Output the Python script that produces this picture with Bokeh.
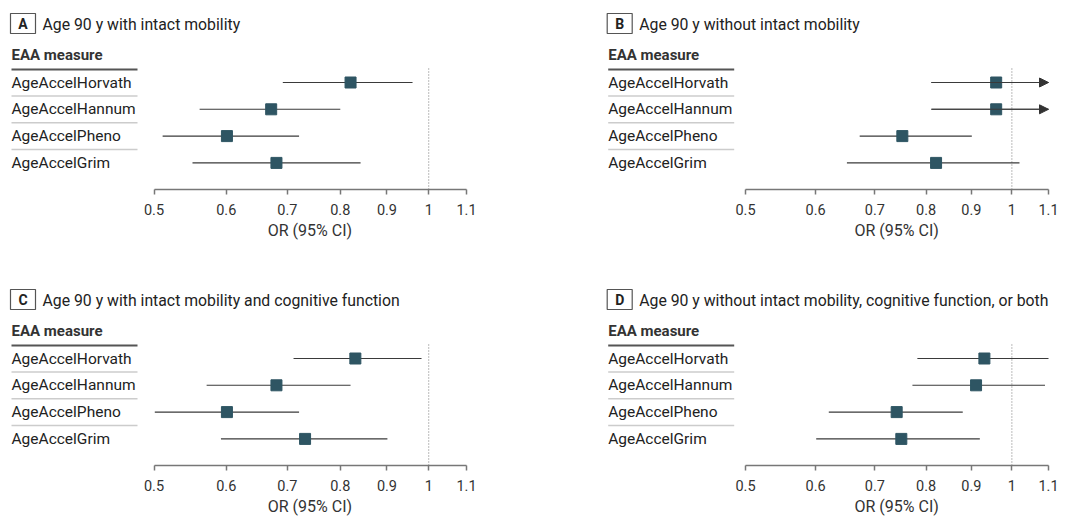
import math
from bokeh.plotting import figure
from bokeh.layouts import gridplot
from bokeh.models import (Range1d, LinearScale, FixedTicker, NumeralTickFormatter,
                          LogAxis, Arrow, NormalHead, ColumnDataSource, Title)
from bokeh.core.properties import value
from bokeh.embed import file_html
from bokeh.resources import INLINE

# ---------------- data ----------------
measures = ["AgeAccelHorvath", "AgeAccelHannum", "AgeAccelPheno", "AgeAccelGrim"]
ticks = [0.5, 0.6, 0.7, 0.8, 0.9, 1.0, 1.1]
axis_min, axis_max = 0.5, 1.1
x_label = "OR (95% CI)"
header = "EAA measure"

letters = ["A", "B", "C", "D"]
titles = ["Age 90 y with intact mobility",
          "Age 90 y without intact mobility",
          "Age 90 y with intact mobility and cognitive function",
          "Age 90 y without intact mobility, cognitive function, or both"]

or_A = [0.821, 0.672, 0.601, 0.681]
lo_A = [0.692, 0.561, 0.511, 0.551]
hi_A = [0.960, 0.800, 0.721, 0.842]

or_B = [0.960, 0.960, 0.752, 0.821]
lo_B = [0.811, 0.811, 0.673, 0.651]
hi_B = [1.150, 1.150, 0.901, 1.020]

or_C = [0.831, 0.681, 0.601, 0.732]
lo_C = [0.711, 0.571, 0.501, 0.592]
hi_C = [0.982, 0.821, 0.721, 0.901]

or_D = [0.931, 0.911, 0.741, 0.750]
lo_D = [0.782, 0.772, 0.621, 0.601]
hi_D = [1.100, 1.090, 0.880, 0.920]

FONT = value("Roboto")
W = 540
FRAME_H = 189
ROW0, DY = 82, 26.8


def panel(letter, title, est, lo, hi, height, left, ax0, ax1):
    k = (ax1 - ax0) / math.log(axis_max / axis_min)
    xs = axis_min * math.exp(-ax0 / k)
    xe = axis_min * math.exp((W - ax0) / k)
    y_top = -ROW0 / DY
    y_bot = (FRAME_H - ROW0) / DY
    p = figure(width=W, height=height, x_axis_type="log",
               x_range=Range1d(xs, xe), y_range=Range1d(y_bot, y_top),
               x_axis_location=None, y_axis_location=None,
               toolbar_location=None, output_backend="svg",
               min_border_left=0, min_border_right=0, min_border_top=0,
               min_border_bottom=height - FRAME_H, outline_line_color=None,
               background_fill_color="white", border_fill_color="white")
    p.xgrid.visible = False
    p.ygrid.visible = False
    p.extra_x_ranges = {"px": Range1d(0, W)}
    p.extra_x_scales = {"px": LinearScale()}
    p.extra_y_ranges = {"px": Range1d(FRAME_H, 0)}
    p.extra_y_scales = {"px": LinearScale()}

    idx = list(range(len(measures)))
    hi_draw = [min(h, axis_max) for h in hi]
    src = ColumnDataSource(dict(y=idx, est=est, lo=lo, hi=hi_draw, name=measures))

    # panel letter box and title
    p.quad(left=[left - 1], right=[left + 24], top=[13], bottom=[33],
           x_range_name="px", y_range_name="px",
           fill_color="white", line_color="#555555", line_width=1.2)
    p.text(x=[left + 11.5], y=[23.5], text=[letter], x_range_name="px", y_range_name="px",
           text_font=FONT, text_font_style="bold", text_font_size="14px",
           text_align="center", text_baseline="middle", text_color="#222222")
    p.text(x=[left + 31], y=[23.5], text=[title], x_range_name="px", y_range_name="px",
           text_font=FONT, text_font_size="15.8px",
           text_baseline="middle", text_color="#222222")

    # header
    p.text(x=[left], y=[54], text=[header], x_range_name="px", y_range_name="px",
           text_font=FONT, text_font_style="bold", text_font_size="15px",
           text_baseline="middle", text_color="#333333")
    p.segment(x0=[left], x1=[left + 126], y0=[69], y1=[69],
              x_range_name="px", y_range_name="px",
              line_color="#555555", line_width=2)
    # separators between rows
    seps = [i + 0.5 for i in idx[:-1]]
    p.segment(x0=[left] * len(seps), x1=[left + 126] * len(seps), y0=seps, y1=seps,
              x_range_name="px", line_color="#cccccc", line_width=1.5)
    # row labels
    p.text(x=[left] * len(idx), y=idx, text=measures, x_range_name="px",
           text_font=FONT, text_font_size="15.5px",
           text_baseline="middle", text_color="#222222")

    # reference line at OR = 1
    p.segment(x0=[1.0], x1=[1.0], y0=[68], y1=[FRAME_H], y_range_name="px",
              line_color="#777777", line_width=1, line_dash="1 2")

    # CIs and estimates
    p.segment(x0="lo", x1="hi", y0="y", y1="y", source=src,
              line_color="#3a3a3a", line_width=1.1)
    for i, h in enumerate(hi):
        if h > axis_max:
            p.add_layout(Arrow(end=NormalHead(size=9, fill_color="#333333",
                                              line_color="#333333"),
                               x_start=lo[i], y_start=i, x_end=axis_max, y_end=i,
                               line_color="#3a3a3a", line_width=1.1))
    p.scatter(x="est", y="y", source=src, marker="square", size=11,
              fill_color="#2e5563", line_color="#2e5563")

    ax = LogAxis(ticker=FixedTicker(ticks=ticks, minor_ticks=[]),
                 formatter=NumeralTickFormatter(format="0.[0]"),
                 bounds=(axis_min, axis_max))
    ax.axis_line_color = "#777777"
    ax.axis_line_width = 1.5
    ax.major_tick_line_color = "#777777"
    ax.major_tick_line_width = 1.5
    ax.major_tick_in = 0
    ax.major_tick_out = 5
    ax.major_label_standoff = 9
    ax.major_label_text_font = "Roboto"
    ax.major_label_text_font_size = "14.5px"
    ax.major_label_text_color = "#333333"
    p.add_layout(ax, "below")

    # x-axis caption, centred under the axis span
    label_w = 85
    t = Title(text=x_label, align="left", offset=(ax0 + ax1) / 2 - label_w / 2,
              text_font="Roboto", text_font_size="16px", text_font_style="normal",
              text_color="#333333", standoff=2)
    p.add_layout(t, "below")
    return p


H1, H2 = 276, 240
pA = panel(letters[0], titles[0], or_A, lo_A, hi_A, H1, 11, 153.5, 466)
pB = panel(letters[1], titles[1], or_B, lo_B, hi_B, H1, 67.7, 205, 508)
pC = panel(letters[2], titles[2], or_C, lo_C, hi_C, H2, 11, 153.5, 466)
pD = panel(letters[3], titles[3], or_D, lo_D, hi_D, H2, 67.7, 205, 508)

grid = gridplot([[pA, pB], [pC, pD]], toolbar_location=None)
open("out.html", "w").write(file_html(grid, INLINE))
